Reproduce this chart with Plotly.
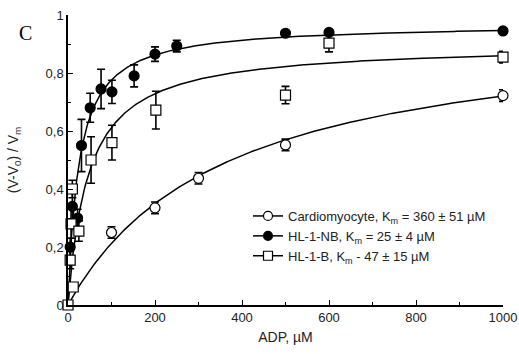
import numpy as np
import plotly.graph_objects as go

# ---- data ----
cardio_x = [100, 200, 300, 500, 1000]
cardio_y = [0.25, 0.335, 0.437, 0.552, 0.722]
cardio_err = [0.02, 0.02, 0.02, 0.02, 0.02]

nb_x = [5, 10, 22, 31, 51, 76, 101, 152, 200, 250, 500, 600, 1000]
nb_y = [0.20, 0.34, 0.30, 0.55, 0.68, 0.745, 0.735, 0.79, 0.865, 0.893, 0.937, 0.94, 0.945]
nb_err = [0.03, 0.05, 0.03, 0.09, 0.05, 0.068, 0.04, 0.038, 0.025, 0.02, 0.0, 0.0, 0.0]

b_x = [0, 5, 7, 10, 12, 25, 53, 101, 202, 500, 600, 1000]
b_y = [0.0, 0.155, 0.28, 0.40, 0.062, 0.255, 0.50, 0.56, 0.672, 0.724, 0.903, 0.855]
b_err = [0.0, 0.03, 0.05, 0.03, 0.0, 0.035, 0.08, 0.06, 0.065, 0.03, 0.03, 0.02]

# Michaelis-Menten fit parameters (Km from legend, Vmax)
fit_km = {"cardio": 360, "nb": 25, "b": 47}
fit_vmax = {"cardio": 0.98, "nb": 0.97, "b": 0.90}

legend_names = [
    "Cardiomyocyte, K<sub>m</sub> = 360 ± 51 µM",
    "HL-1-NB, K<sub>m</sub> = 25 ± 4 µM",
    "HL-1-B, K<sub>m</sub> - 47 ± 15 µM",
]

x_ticks = [0, 200, 400, 600, 800, 1000]
y_ticks = [0, 0.2, 0.4, 0.6, 0.8, 1]
y_tick_text = ["0", "0,2", "0,4", "0,6", "0,8", "1"]

fig = go.Figure()

xf = np.linspace(0, 1000, 501)
for key in ["cardio", "nb", "b"]:
    yf = fit_vmax[key] * xf / (fit_km[key] + xf)
    fig.add_trace(go.Scatter(x=xf, y=yf, mode="lines",
                             line=dict(color="black", width=1.5),
                             showlegend=False, hoverinfo="skip"))

err_style = dict(type="data", color="black", thickness=1.6, width=4)

series = [
    (cardio_x, cardio_y, cardio_err, "circle", "white"),
    (nb_x, nb_y, nb_err, "circle", "black"),
    (b_x, b_y, b_err, "square", "white"),
]

for (xs, ys, es, sym, fill), name in zip(series, legend_names):
    fig.add_trace(go.Scatter(
        x=xs, y=ys, mode="markers",
        error_y=dict(array=es, **err_style),
        marker=dict(symbol=sym, size=10, color=fill,
                    line=dict(color="black", width=1.2)),
        showlegend=False, cliponaxis=False))
    fig.add_trace(go.Scatter(
        x=[None], y=[None], mode="lines+markers", name=name,
        line=dict(color="black", width=1.5),
        marker=dict(symbol=sym, size=9, color=fill,
                    line=dict(color="black", width=1.2)),
        showlegend=True))

fig.update_layout(
    width=519, height=354,
    margin=dict(l=68, r=16, t=15, b=49),
    paper_bgcolor="white", plot_bgcolor="white",
    font=dict(family="Liberation Sans, Arial, sans-serif", size=13, color="#222"),
    showlegend=True,
    legend=dict(x=(248 - 68) / 435, y=(305 - 201) / 290, xanchor="left", yanchor="top",
                font=dict(size=13, color="#222"), bgcolor="rgba(0,0,0,0)",
                tracegroupgap=0, itemwidth=30),
    xaxis=dict(range=[0, 1000], tickvals=x_ticks, ticks="inside", ticklen=5,
               tickwidth=1.3, tickcolor="black", showline=True, linecolor="black",
               linewidth=1.5, showgrid=False, zeroline=False, automargin=False,
               minor=dict(dtick=100, ticks="inside", ticklen=3, tickcolor="black", tickwidth=1.2),
               title=dict(text="ADP, µM", standoff=8, font=dict(size=14))),
    yaxis=dict(range=[0, 1], tickvals=y_ticks, ticktext=y_tick_text, ticks="inside",
               ticklen=5, tickwidth=1.3, tickcolor="black", showline=True,
               linecolor="black", linewidth=1.5, showgrid=False, zeroline=False,
               automargin=False,
               minor=dict(dtick=0.1, ticks="inside", ticklen=3, tickcolor="black", tickwidth=1.2),
               title=dict(text="(V-V<sub>0</sub>) / V<sub>m</sub>", standoff=24, font=dict(size=14))),
    annotations=[dict(text="C", x=(25 - 68) / 435, y=(305 - 33) / 290,
                      xref="paper", yref="paper", xanchor="center", yanchor="middle",
                      showarrow=False,
                      font=dict(family="Liberation Serif, Times New Roman, serif",
                                size=20, color="black"))],
)

fig.write_html("out.html", config={"displayModeBar": False},
               post_script="document.body.style.margin='0';")
